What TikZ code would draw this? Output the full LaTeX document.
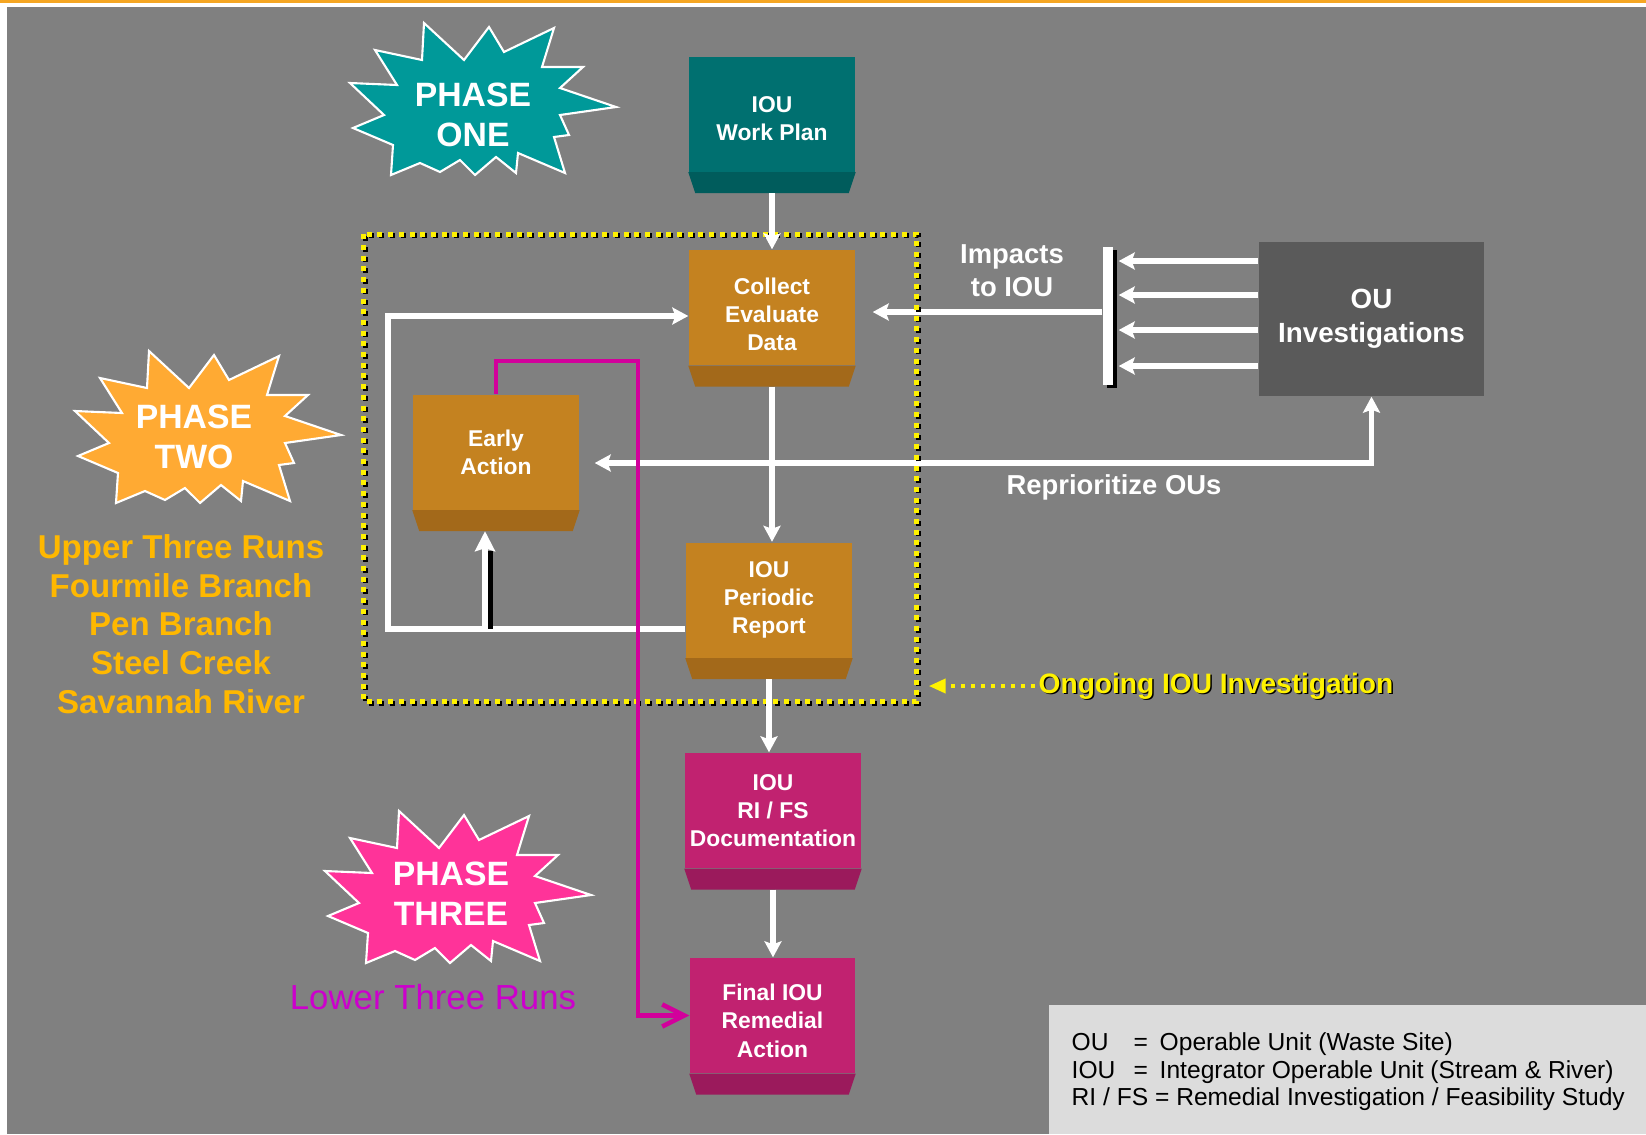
\documentclass[tikz,border=0pt]{standalone}
\usepackage{fontspec}
\setmainfont{Liberation Sans}
\usetikzlibrary{arrows.meta,positioning,shadows}

\definecolor{bggray}{RGB}{128,128,128}
\definecolor{topline}{RGB}{245,166,35}
\definecolor{starteal}{RGB}{0,153,153}
\definecolor{planteal}{RGB}{0,112,112}
\definecolor{plandark}{RGB}{0,92,92}
\definecolor{ochre}{RGB}{196,130,32}
\definecolor{ochredark}{RGB}{163,105,26}
\definecolor{starorange}{RGB}{255,170,51}
\definecolor{gold}{RGB}{255,184,0}
\definecolor{berry}{RGB}{193,34,112}
\definecolor{berrydark}{RGB}{155,26,92}
\definecolor{starpink}{RGB}{255,51,153}
\definecolor{lowermag}{RGB}{204,0,204}
\definecolor{magline}{RGB}{210,0,155}
\definecolor{ougray}{RGB}{90,90,90}
\definecolor{legendgray}{RGB}{220,220,220}

% darker lower face of a box, plus its bottom point
\newcommand{\bevel}[2]{%
  \fill[#2] (#1.south west) -- (#1.south east) -- ++(-0.07,-0.21)
    -- ([shift={(0.07,-0.21)}]#1.south west) -- cycle;
  \coordinate (#1b) at ([yshift=-0.21cm]#1.south);}

\begin{document}
\begin{tikzpicture}[
    cube/.style = {minimum width=1.66cm, minimum height=1.15cm, inner sep=0pt,
                   text=white, align=center, font=\fontsize{6.5}{8}\selectfont\bfseries},
    wire/.style = {white, line width=1.5pt, -{Stealth[length=0.16cm,width=0.17cm,inset=0.03cm]}},
    phase/.style = {text=white, align=center, font=\fontsize{9.6}{11.4}\selectfont\bfseries},
    label/.style = {text=white, align=center, font=\fontsize{7.8}{9.3}\selectfont\bfseries},
    pics/burst/.style = {code={
        \filldraw[fill=#1, draw=white, line width=0.6pt]
          (-0.59,0.76) -- (-0.19,0.39) -- (0.06,0.72) -- (0.21,0.47) -- (0.71,0.71)
          -- (0.59,0.32) -- (1.00,0.32) -- (0.77,0.11) -- (1.33,-0.08) -- (0.77,-0.16)
          -- (0.86,-0.36) -- (0.71,-0.38) -- (0.82,-0.74) -- (0.35,-0.54) -- (0.33,-0.74)
          -- (0.13,-0.58) -- (-0.08,-0.76) -- (-0.23,-0.61) -- (-0.43,-0.73) -- (-0.63,-0.64)
          -- (-0.92,-0.76) -- (-0.90,-0.46) -- (-1.30,-0.29) -- (-0.99,-0.16) -- (-1.33,0.16)
          -- (-0.86,0.14) -- (-1.08,0.49) -- (-0.61,0.39) -- cycle;}}
  ]
  \useasboundingbox (0,0) rectangle (16.46,-11.34);
  \fill[white] (0,0) rectangle (16.46,-11.34);
  \fill[topline] (0,0) rectangle (16.46,-0.03);
  \fill[bggray] (0.07,-0.07) rectangle (16.46,-11.34);

  % phase bursts
  \pic at (4.83,-0.99) {burst=starteal};
  \pic at (2.08,-4.27) {burst=starorange};
  \pic at (4.58,-8.87) {burst=starpink};
  \node[phase] (p1) at (4.73,-1.15) {PHASE\\ONE};
  \node[phase] (p2) at (1.94,-4.37) {PHASE\\TWO};
  \node[phase] (p3) at (4.51,-8.94) {PHASE\\THREE};

  \node[text=gold, align=center, font=\fontsize{9.4}{11}\selectfont\bfseries] (rivers)
    at (1.81,-6.24) {Upper Three Runs\\Fourmile Branch\\Pen Branch\\Steel Creek\\Savannah River};
  \node[text=lowermag, font=\fontsize{9.9}{11}\selectfont] (lower) at (4.33,-9.97) {Lower Three Runs};

  % boxes
  \node[cube, fill=planteal] (plan) at (7.72,-1.14) {\rule{0pt}{0.245cm}IOU\\Work Plan};
  \bevel{plan}{plandark}
  \node[cube, fill=ochre] (collect) at (7.72,-3.075) {\rule{0pt}{0.30cm}Collect\\Evaluate\\Data};
  \bevel{collect}{ochredark}
  \node[cube, fill=ochre] (early) at (4.96,-4.52) {Early\\Action};
  \bevel{early}{ochredark}
  \node[cube, fill=ochre] (periodic) at (7.69,-6.00) {IOU\\Periodic\\Report};
  \bevel{periodic}{ochredark}
  \node[cube, fill=berry, minimum width=1.76cm] (rifs) at (7.73,-8.105) {IOU\\RI / FS\\Documentation};
  \bevel{rifs}{berrydark}
  \node[cube, fill=berry, minimum width=1.65cm] (final) at (7.725,-10.155) {\rule{0pt}{0.27cm}Final IOU\\Remedial\\Action};
  \bevel{final}{berrydark}

  \node[fill=ougray, minimum width=2.25cm, minimum height=1.54cm, text=white, align=center,
        font=\fontsize{7.9}{9.6}\selectfont\bfseries] (ou) at (13.715,-3.19) {OU\\Investigations};

  % impacts bar
  \node[fill=white, minimum width=0.1cm, minimum height=1.38cm, inner sep=0pt,
        drop shadow={shadow xshift=0.04cm, shadow yshift=-0.03cm, fill=black, opacity=1}] (bar) at (11.08,-3.16) {};
  \coordinate (barin) at ([xshift=0.05cm]bar.east);
  \foreach \y in {-2.61,-2.95,-3.30,-3.66}
    \draw[wire] (ou.west |- 0,\y) -- (barin |- 0,\y);
  \draw[wire, shorten >=0.17cm] (bar.west |- 0,-3.12) -- (collect.east |- 0,-3.12);
  \node[label] (impacts) at (10.12,-2.71) {Impacts\\to IOU};

  % reprioritize
  \draw[wire, {Stealth[length=0.16cm,width=0.17cm,inset=0.03cm]}-{Stealth[length=0.16cm,width=0.17cm,inset=0.03cm]},
        shorten <=0.15cm] (early.east |- 0,-4.63) -| (ou.south);
  \node[label] (reprio) at (11.14,-4.87) {Reprioritize OUs};

  % ongoing frame
  \node[minimum width=5.52cm, minimum height=4.66cm, inner sep=0pt] (frame) at (6.40,-4.68) {};
  \draw[black, line width=0.05cm, dash pattern=on 0.05cm off 0.057cm,
        transform canvas={xshift=0.02cm, yshift=-0.015cm}] (frame.north west) rectangle (frame.south east);
  \draw[yellow, line width=0.05cm, dash pattern=on 0.05cm off 0.057cm] (frame.north west) rectangle (frame.south east);

  % main flow
  \draw[wire] (planb) -- (collect);
  \draw[wire] (collectb) -- (collectb |- periodic.north);
  \draw[wire] (periodicb) -- (periodicb |- rifs.north);
  \draw[wire] (rifsb) -- (rifsb |- final.north);

  % loop back
  \coordinate (loop) at (3.88,-3.16);
  \coordinate (split) at (4.85,-6.29);
  \draw[wire] (periodic.west |- split) -| (loop) -- (collect.west |- loop);
  \draw[black, line width=1.5pt, shorten >=0.2cm, transform canvas={xshift=0.05cm}] (split) -- (split |- earlyb);
  \draw[wire, -{Stealth[length=0.2cm,width=0.2cm,inset=0.03cm]}] (split) -- (split |- earlyb);

  % phase three path
  \coordinate (maghi) at (6.38,-3.61);
  \draw[magline, line width=1.3pt, -{Straight Barb[length=0.22cm,width=0.22cm]}]
    (early.north) |- (maghi) |- (final.west);

  % ongoing label
  \node[text=black, inner sep=1pt, font=\fontsize{8}{9}\selectfont\bfseries] (ongoingsh)
    at (12.175,-6.875) {Ongoing IOU Investigation};
  \node[text=yellow, inner sep=1pt, font=\fontsize{8}{9}\selectfont\bfseries] (ongoing)
    at (12.16,-6.86) {Ongoing IOU Investigation};
  \draw[yellow, line width=1.1pt, dash pattern=on 0.035cm off 0.065cm, shorten >=0.12cm,
        -{Triangle[length=0.17cm,width=0.14cm]}] (ongoing.west) -- (frame.east |- ongoing.west);

  % legend
  \fill[legendgray] (10.49,-10.05) rectangle (16.46,-11.34);
  \node[anchor=west, align=left, inner sep=0pt, font=\fontsize{7}{7.8}\selectfont] (legend) at (10.71,-10.72)
    {\makebox[0.62cm][l]{OU}\makebox[0.26cm][l]{=}Operable Unit (Waste  Site)\\
     \makebox[0.62cm][l]{IOU}\makebox[0.26cm][l]{=}Integrator  Operable Unit (Stream  \& River)\\
     RI / FS = Remedial Investigation  / Feasibility  Study};
\end{tikzpicture}
\end{document}
